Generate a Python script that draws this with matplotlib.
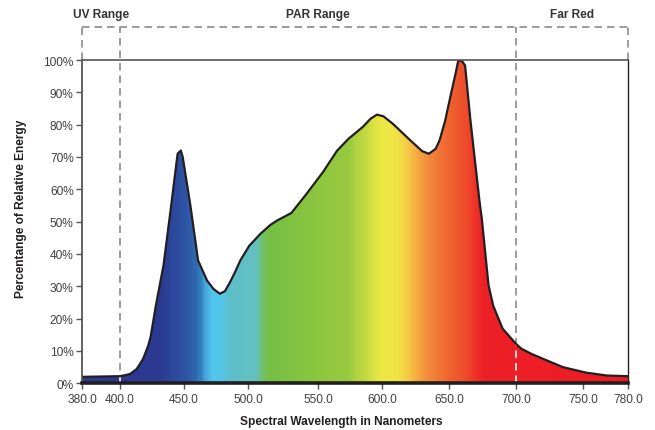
import numpy as np
import matplotlib
matplotlib.use("Agg")
import matplotlib.pyplot as plt
from matplotlib.colors import LinearSegmentedColormap
from matplotlib.patches import Polygon

# ---------------- data ----------------
wavelength = [380, 400, 404, 408, 413, 418, 422, 424, 428, 434, 440, 445, 447.5,
              449, 455, 461, 468, 473, 478, 482, 486, 490, 494, 501, 509, 516,
              521, 531, 542, 554, 565, 574, 585, 591, 596, 601, 608, 621, 630,
              635, 640, 643, 647, 651, 655, 657, 660, 662, 666, 673, 674.5, 677,
              679.5, 683, 690, 700, 704, 712, 720, 735, 752, 766, 780]
energy = [2.0, 2.2, 2.5, 2.9, 4.4, 7.5, 11.6, 14.5, 24, 36.5, 55, 71, 72,
          70, 55, 38, 31.8, 29.2, 27.7, 28.5, 31.3, 34.5, 38, 42.6, 46.3, 49,
          50.4, 52.7, 58.7, 65.4, 72, 75.7, 79.3, 81.8, 83.1, 82.6, 80.3, 75.2, 71.8,
          71, 72.5, 75.2, 81, 88.6, 96, 100, 99.5, 98.3, 81.3, 55.5, 50.9, 40.6,
          30.3, 24, 16.9, 12.2, 10.7, 9.0, 7.6, 5.0, 3.3, 2.4, 2.2]

tick_wavelengths = [380, 400, 450, 500, 550, 600, 650, 700, 750, 780]
tick_labels = ["380.0", "400.0", "450.0", "500.0", "550.0", "600.0",
               "650.0", "700.0", "750.0", "780.0"]
ytick_values = [0, 10, 20, 30, 40, 50, 60, 70, 80, 90, 100]
ytick_labels = [f"{v}%" for v in ytick_values]

region_names = ["UV Range", "PAR Range", "Far Red"]
region_bounds = [(380, 400), (400, 700), (700, 780)]

# spectrum colour stops (wavelength, colour)
spectrum_wl = [380, 430, 445, 455, 460, 466, 472, 480, 485, 506, 512, 516,
               550, 573, 600, 612, 621, 628, 638, 653, 663, 676, 780]
spectrum_col = ["#2b3990", "#2b3990", "#2d4c9f", "#2f5ca7", "#2d6cb1", "#45a0d9",
                "#52c5ee", "#55c4e6", "#5cbfcb", "#63c0bf", "#74bf55", "#74bf44",
                "#8dc63f", "#97c93f", "#ece843", "#efe345", "#f6c544", "#f3a23e",
                "#f1823a", "#ef5d2e", "#ee4b2b", "#ed1f26", "#ed1c24"]

# ---------------- layout ----------------
W, H = 655, 431
tick_px = [82, 120, 184, 248, 318, 382, 449, 516, 583, 628]

a_wl = np.array(tick_wavelengths, float)
a_px = np.array(tick_px, float)
s0 = (a_px[1] - a_px[0]) / (a_wl[1] - a_wl[0])
s1 = (a_px[-1] - a_px[-2]) / (a_wl[-1] - a_wl[-2])
ext_wl = np.concatenate([[a_wl[0] - 1000], a_wl, [a_wl[-1] + 1000]])
ext_px = np.concatenate([[a_px[0] - 1000 * s0], a_px, [a_px[-1] + 1000 * s1]])


def fwd(x):
    return np.interp(x, ext_wl, ext_px)


def inv(p):
    return np.interp(p, ext_px, ext_wl)


plt.rcParams["font.family"] = ["Liberation Sans", "DejaVu Sans"]
FS = 8.6

fig = plt.figure(figsize=(W / 100, H / 100), dpi=100)
ax_left, ax_right, ax_top, ax_bot = 82, 628, 61, 384.3
ax = fig.add_axes([ax_left / W, 1 - ax_bot / H, (ax_right - ax_left) / W,
                   (ax_bot - ax_top) / H])
ax.set_xscale("function", functions=(fwd, inv))
ax.set_xlim(380, 780)
ax.set_ylim(0, 100)

# polygon of the spectrum
verts = list(zip(wavelength, energy)) + [(780, 0), (380, 0)]
poly = Polygon(verts, closed=True, transform=ax.transData, facecolor="none",
               edgecolor="none")

# gradient fill
cmap = LinearSegmentedColormap.from_list(
    "spec", [((w - 380) / 400, c) for w, c in zip(spectrum_wl, spectrum_col)])
xe = np.linspace(380, 780, 801)
ye = np.array([0, 105])
xc = 0.5 * (xe[:-1] + xe[1:])
C = ((xc - 380) / 400)[None, :]
mesh = ax.pcolormesh(xe, ye, C, cmap=cmap, vmin=0, vmax=1, shading="flat",
                     zorder=2, antialiased=False)
mesh.set_clip_path(poly)

# outline
ax.plot(wavelength, energy, color="#231f20", lw=1.6, zorder=4,
        solid_joinstyle="round", solid_capstyle="round")

# dashed region box
top = 100 + (61 - 28) / ((ax_bot - ax_top) / 100)
dash = (0, (4.5, 3.0))
gray = "#8a8a8a"
for xv in [400, 700]:
    ax.plot([xv, xv], [0, top], color=gray, lw=1.2, linestyle=dash,
            clip_on=False, zorder=1)
    wl_line, = ax.plot([xv, xv], [0, top], color="white", lw=1.2,
                       linestyle=dash, clip_on=True, zorder=3)
    wl_line.set_clip_path(poly)
for xv in [380, 780]:
    ax.plot([xv, xv], [100, top], color=gray, lw=1.2, linestyle=dash,
            clip_on=False, zorder=1)
ax.plot([380, 780], [top, top], color=gray, lw=1.2, linestyle=dash,
        clip_on=False, zorder=1)

# region labels
label_y = 100 + (61 - 15) / ((ax_bot - ax_top) / 100)
for name, (a, b) in zip(region_names, region_bounds):
    xm = inv((fwd(a) + fwd(b)) / 2)
    ax.text(xm, label_y, name, ha="center", va="center", fontsize=FS,
            fontweight="bold", color="#333333", clip_on=False)

# axes styling
ax.set_xticks(tick_wavelengths)
ax.set_xticklabels(tick_labels)
ax.set_yticks(ytick_values)
ax.set_yticklabels(ytick_labels)
ax.minorticks_off()
ax.tick_params(axis="both", labelsize=FS, labelcolor="#404040", length=4,
               width=1.0, color="#555555", direction="out")
ax.tick_params(axis="x", pad=3)
ax.tick_params(axis="y", pad=2)
ax.spines["left"].set_color("#555555")
ax.spines["left"].set_linewidth(1.3)
ax.spines["top"].set_color("#555555")
ax.spines["top"].set_linewidth(1.2)
ax.spines["right"].set_color("#222222")
ax.spines["right"].set_linewidth(1.0)
ax.spines["bottom"].set_color("#231f20")
ax.spines["bottom"].set_linewidth(2.6)
for s in ax.spines.values():
    s.set_zorder(5)

fig.text(341.7 / W, 1 - 422 / H, "Spectral Wavelength in Nanometers",
         ha="center", va="center", fontsize=FS, fontweight="bold",
         color="#231f20")
fig.text(20.7 / W, 1 - 209 / H, "Percentange of Relative Energy",
         ha="center", va="center", rotation=90, fontsize=FS,
         fontweight="bold", color="#231f20")

fig.savefig("out.png", dpi=100)
